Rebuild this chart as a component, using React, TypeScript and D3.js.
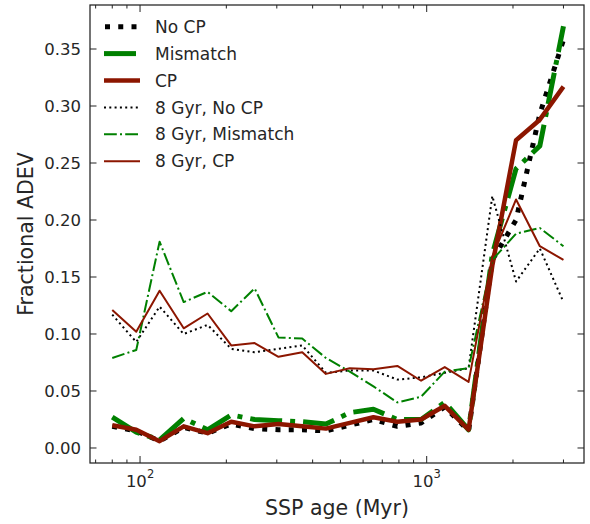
import React from "react";
import * as d3 from "d3";

const ages = [80, 97, 117, 142, 172, 208, 251, 304, 368, 445, 539, 652, 790, 956, 1156, 1400, 1694, 2050, 2481, 3000];

const noCP = [0.019, 0.015, 0.006, 0.018, 0.013, 0.021, 0.017, 0.016, 0.016, 0.015, 0.020, 0.025, 0.019, 0.022, 0.036, 0.015, 0.165, 0.200, 0.293, 0.358];
const mismatch = [0.027, 0.014, 0.007, 0.026, 0.016, 0.029, 0.025, 0.024, 0.023, 0.021, 0.031, 0.034, 0.025, 0.025, 0.040, 0.016, 0.170, 0.245, 0.265, 0.370];
const cp = [0.020, 0.016, 0.006, 0.019, 0.013, 0.023, 0.019, 0.021, 0.019, 0.017, 0.022, 0.027, 0.023, 0.025, 0.037, 0.016, 0.160, 0.270, 0.288, 0.317];
const noCP8 = [0.117, 0.093, 0.124, 0.100, 0.108, 0.087, 0.084, 0.087, 0.090, 0.066, 0.068, 0.068, 0.060, 0.062, 0.066, 0.070, 0.221, 0.146, 0.175, 0.128];
const mismatch8 = [0.079, 0.086, 0.181, 0.128, 0.137, 0.120, 0.140, 0.097, 0.096, 0.079, 0.067, 0.054, 0.040, 0.045, 0.067, 0.070, 0.165, 0.188, 0.193, 0.177];
const cp8 = [0.121, 0.102, 0.138, 0.105, 0.118, 0.090, 0.092, 0.080, 0.084, 0.065, 0.070, 0.069, 0.072, 0.059, 0.071, 0.058, 0.168, 0.218, 0.177, 0.165];

const yTicks = [0, 0.05, 0.1, 0.15, 0.2, 0.25, 0.3, 0.35];
const seriesLabels = ["No CP", "Mismatch", "CP", "8 Gyr, No CP", "8 Gyr, Mismatch", "8 Gyr, CP"];

const GREEN = "#008000";
const RED = "#8c1600";

const styles = [
  { color: "#000", width: 5, dash: "5,8.25", cap: "butt" },
  { color: GREEN, width: 5, dash: "32,8,5,8", cap: "butt" },
  { color: RED, width: 4.5, dash: null, cap: "butt" },
  { color: "#000", width: 2, dash: "2,3.3", cap: "butt" },
  { color: GREEN, width: 2, dash: "12.8,3.2,2,3.2", cap: "butt" },
  { color: RED, width: 2, dash: null, cap: "butt" },
];

const seriesData = [noCP, mismatch, cp, noCP8, mismatch8, cp8];

const W = 590, H = 524;
const L = 90, R = 584, T = 5, B = 463;
const FONT = "'DejaVu Sans', sans-serif";
const TXT = "#262626";

export default function App() {
  const x = d3.scaleLog().domain([66.9, 3538]).range([L, R]);
  const y = d3.scaleLinear().domain([-0.01316, 0.3886]).range([B, T]);
  const line = d3.line<number>().x((_, i) => x(ages[i])).y((d) => y(d));

  const xt = x.ticks();
  const isMajor = (v: number) => Math.abs(Math.log10(v) - Math.round(Math.log10(v))) < 1e-9;

  return (
    <svg width={W} height={H} style={{ display: "block", position: "absolute", left: 0, top: 0 }} fontFamily={FONT}>
      <rect x={0} y={0} width={W} height={H} fill="#fff" />
      <defs>
        <clipPath id="plotclip">
          <rect x={L} y={T} width={R - L} height={B - T} />
        </clipPath>
      </defs>
      <g clipPath="url(#plotclip)">
        {seriesData.map((s, k) => (
          <path
            key={k}
            d={line(s) || ""}
            fill="none"
            stroke={styles[k].color}
            strokeWidth={styles[k].width}
            strokeDasharray={styles[k].dash || undefined}
            strokeLinejoin="round"
            strokeLinecap={styles[k].cap as any}
          />
        ))}
      </g>
      {/* x ticks */}
      {xt.map((v, i) => {
        const len = isMajor(v) ? 7 : 3.5;
        const xv = x(v);
        return (
          <g key={"xt" + i}>
            <line x1={xv} x2={xv} y1={B} y2={B - len} stroke="#222" strokeWidth={1} />
            <line x1={xv} x2={xv} y1={T} y2={T + len} stroke="#222" strokeWidth={1} />
            {isMajor(v) && (
              <text x={xv} y={487} textAnchor="middle" fontSize={16.5} fill={TXT}>
                10
                <tspan dy={-9} fontSize={11.5}>{Math.round(Math.log10(v))}</tspan>
              </text>
            )}
          </g>
        );
      })}
      {/* y ticks */}
      {yTicks.map((v, i) => (
        <g key={"yt" + i}>
          <line x1={L} x2={L + 6.5} y1={y(v)} y2={y(v)} stroke="#222" strokeWidth={1} />
          <line x1={R} x2={R - 6.5} y1={y(v)} y2={y(v)} stroke="#222" strokeWidth={1} />
          <text x={81} y={y(v)} dy="0.36em" textAnchor="end" fontSize={16.5} fill={TXT}>
            {v.toFixed(2)}
          </text>
        </g>
      ))}
      <rect x={L} y={T} width={R - L} height={B - T} fill="none" stroke="#222" strokeWidth={1.25} />
      {/* axis labels */}
      <text x={(L + R) / 2} y={515} textAnchor="middle" fontSize={20.5} fill={TXT}>
        SSP age (Myr)
      </text>
      <text transform={`translate(33, ${(T + B) / 2}) rotate(-90)`} textAnchor="middle" fontSize={20.5} fill={TXT}>
        Fractional ADEV
      </text>
      {/* legend */}
      {seriesLabels.map((lab, k) => {
        const ly = 26.7 + 26.9 * k;
        return (
          <g key={"lg" + k}>
            <line
              x1={k === 0 ? 105 : 104}
              x2={k === 1 ? 137 : 140}
              y1={ly}
              y2={ly}
              stroke={styles[k].color}
              strokeWidth={styles[k].width}
              strokeDasharray={styles[k].dash || undefined}
            />
            <text x={155} y={ly} dy="0.36em" fontSize={17} fill={TXT}>
              {lab}
            </text>
          </g>
        );
      })}
    </svg>
  );
}
